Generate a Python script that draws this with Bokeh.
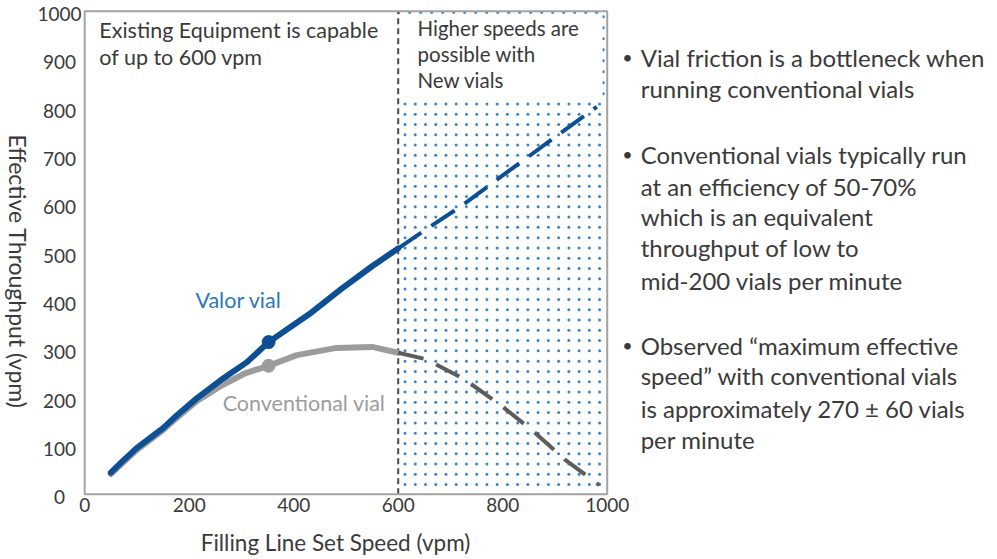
import math
import numpy as np
from bokeh.plotting import figure
from bokeh.models import Range1d
from bokeh.core.properties import value
from bokeh.embed import file_html
from bokeh.resources import INLINE

# ---- data ----
valor_x = [50, 70, 100, 150, 175, 215, 260, 310, 352, 430, 490, 550, 600]
valor_y = [45, 66, 96, 137, 162, 199, 236, 273, 315, 373, 424, 472, 509]
valor_dash_x = [600, 650, 720, 800, 910, 980]
valor_dash_y = [509, 546, 596, 660, 747, 802]

conv_x = [50, 70, 100, 150, 175, 215, 262, 308, 352, 406, 482, 550, 600]
conv_y = [42, 62, 92, 133, 157, 193, 225, 251, 266, 288, 303, 305, 293]
conv_dash_x = [600, 652, 724, 792, 860, 921, 985]
conv_dash_y = [293, 280, 240, 188, 129, 70, 19]

valor_point_x = [352]
valor_point_y = [315]
conv_point_x = [352]
conv_point_y = [266]

x_ticks = [0, 200, 400, 600, 800, 1000]
y_ticks = [0, 100, 200, 300, 400, 500, 600, 700, 800, 900, 1000]

bullets = [
    ["Vial friction is a bottleneck when", "running conventional vials"],
    ["Conventional vials typically run", "at an efficiency of 50-70%",
     "which is an equivalent", "throughput of low to", "mid-200 vials per minute"],
    ["Observed \u201cmaximum effective", "speed\u201d with conventional vials",
     "is approximately 270 \u00b1 60 vials", "per minute"],
]
bullet_baselines = [[905, 840], [704, 637, 575, 511, 443], [308, 246, 178, 114]]

FONT = "Lato"
TXT = "#3a3a3a"
BLUE = "#0d4f94"
BLUE_LABEL = "#2a78b9"
DOT_BLUE = "#3a85c6"
GRAY = "#9c9c9c"
DARK_GRAY = "#5c5c5c"

# frame covers the whole canvas; the chart box spans 0..1000 on both axes
p = figure(width=997, height=559, output_backend="svg", toolbar_location=None,
           x_range=Range1d(-161.1, 1746.9), y_range=Range1d(-135.0, 1022.1),
           min_border=0)
p.background_fill_color = "white"
p.border_fill_color = "white"
p.outline_line_color = None
p.grid.visible = False
p.axis.visible = False

# dotted "new vials" region: a regular dot texture (about 10 px pitch)
gx, gy = np.meshgrid(np.arange(613, 995, 19.6), np.arange(20, 815, 21.3))
p.scatter(gx.ravel(), gy.ravel(), marker="circle", size=3.0,
          fill_color=DOT_BLUE, line_color=None)
p.line([600, 993, 993], [997, 997, 815], line_color=DOT_BLUE, line_width=2.2,
       line_dash="1 10", line_cap="round")
p.line([600, 600], [0, 1000], line_color="#4a4a4a", line_width=2, line_dash="6 4")

# chart box
p.quad(left=0, right=1000, bottom=0, top=1000, fill_alpha=0,
       line_color="#a3a3a3", line_width=2)

# curves
p.line(conv_x, conv_y, line_color=GRAY, line_width=6, line_cap="round", line_join="round")
p.line(conv_dash_x, conv_dash_y, line_color=DARK_GRAY, line_width=4, line_dash="26 14")
p.line(valor_x, valor_y, line_color=BLUE, line_width=6, line_cap="round", line_join="round")
p.line(valor_dash_x, valor_dash_y, line_color=BLUE, line_width=4, line_dash="28 12")
p.scatter(conv_point_x, conv_point_y, size=13, color=GRAY)
p.scatter(valor_point_x, valor_point_y, size=13, color=BLUE)

def txt(x, y, text, size, color=TXT, align="left", baseline="alphabetic",
        angle=0.0, y_offset=0):
    p.text(x=x, y=y, text=text, text_font=value(FONT), text_font_size=size,
           text_color=color, text_align=align, text_baseline=baseline,
           angle=angle, y_offset=y_offset)

# tick labels
txt(x_ticks, [-23] * len(x_ticks), [str(t) for t in x_ticks], "19px", align="center")
txt([-48] * len(y_ticks), y_ticks, [str(t) for t in y_ticks], "19px",
    align="center", baseline="middle", y_offset=3)

# annotations
txt([28, 28], [962, 906], ["Existing Equipment is capable", "of up to 600 vpm"], "21.5px")
txt([637, 637, 637], [966, 912, 858], ["Higher speeds are", "possible with", "New vials"], "20.5px")
txt([212], [403], ["Valor vial"], "21.5px", color=BLUE_LABEL)
txt([264], [188], ["Conventional vial"], "21.5px", color=GRAY)

# axis titles
txt([480], [-100], ["Filling Line Set Speed (vpm)"], "22.5px", align="center")
txt([-127], [461], ["Effective Throughput (vpm)"], "23px", align="center",
    baseline="middle", angle=-math.pi / 2)

# bullet notes
for lines, bases in zip(bullets, bullet_baselines):
    txt([1029], [bases[0]], ["\u2022"], "18px")
    txt([1064] * len(lines), bases, lines, "24px")

open("out.html", "w").write(file_html(p, INLINE))
